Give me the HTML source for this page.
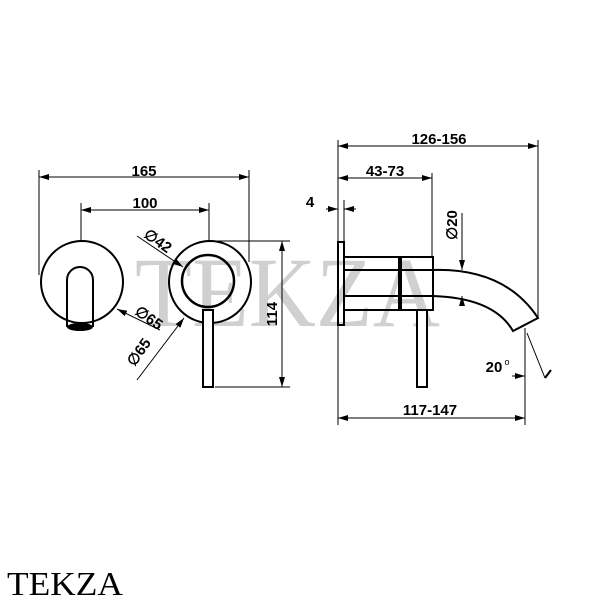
<!DOCTYPE html>
<html><head><style>body{margin:0;background:#fff}svg{display:block}</style></head>
<body>
<svg width="600" height="600" viewBox="0 0 600 600" xmlns="http://www.w3.org/2000/svg">
<defs>
<marker id="a" viewBox="0 0 10 6" refX="10" refY="3" markerWidth="10" markerHeight="6" orient="auto-start-reverse" markerUnits="userSpaceOnUse"><path d="M0,0L10,3L0,6z" fill="#000"/></marker>
</defs>
<text x="135" y="326" font-family="Liberation Serif, serif" font-size="100" fill="#d0d0d0" textLength="305" lengthAdjust="spacingAndGlyphs">TEKZA</text>
<g stroke="#000" fill="none" stroke-width="2">
<circle cx="82" cy="282" r="41"/>
<path d="M67,327V280a13,13 0 0 1 26,0V327"/>
<circle cx="210" cy="282" r="41"/>
<circle cx="208" cy="281" r="26" stroke-width="2.5"/>
<rect x="203" y="310" width="10" height="77" fill="#fff"/>
<rect x="338" y="242" width="6" height="83"/>
<rect x="344" y="257" width="55" height="53"/>
<rect x="401" y="257" width="32" height="53"/>
<path d="M344,270H433Q505,268 538,318L513,331Q494,298 433,296H344"/>
<rect x="417" y="310" width="10" height="77" fill="#fff"/>
</g>
<ellipse cx="80" cy="327" rx="13" ry="4" fill="#000"/>
<g stroke="#000" stroke-width="1" fill="none">
<line x1="39" y1="170" x2="39" y2="275"/><line x1="249" y1="170" x2="249" y2="262"/>
<line x1="39" y1="177" x2="249" y2="177" marker-start="url(#a)" marker-end="url(#a)"/>
<line x1="81" y1="203" x2="81" y2="241"/><line x1="209" y1="203" x2="209" y2="241"/>
<line x1="81" y1="210" x2="209" y2="210" marker-start="url(#a)" marker-end="url(#a)"/>
<line x1="212" y1="241" x2="290" y2="241"/><line x1="215" y1="387" x2="290" y2="387"/>
<line x1="282" y1="241" x2="282" y2="387" marker-start="url(#a)" marker-end="url(#a)"/>
<line x1="137" y1="236" x2="183" y2="267" marker-end="url(#a)"/>
<line x1="160" y1="330" x2="117" y2="309" marker-end="url(#a)"/>
<line x1="137" y1="380" x2="184" y2="318" marker-end="url(#a)"/>
<line x1="338" y1="140" x2="338" y2="242"/><line x1="344" y1="200" x2="344" y2="242"/>
<line x1="538" y1="140" x2="538" y2="318"/>
<line x1="338" y1="146" x2="538" y2="146" marker-start="url(#a)" marker-end="url(#a)"/>
<line x1="432" y1="173" x2="432" y2="257"/>
<line x1="338" y1="178" x2="432" y2="178" marker-start="url(#a)" marker-end="url(#a)"/>
<line x1="326" y1="209" x2="338" y2="209" marker-end="url(#a)"/>
<line x1="356" y1="209" x2="344" y2="209" marker-end="url(#a)"/>
<line x1="462" y1="213" x2="462" y2="270" marker-end="url(#a)"/>
<line x1="462" y1="306" x2="462" y2="296" marker-end="url(#a)"/>
<line x1="338" y1="325" x2="338" y2="425"/><line x1="525" y1="328" x2="525" y2="425"/>
<line x1="338" y1="418" x2="525" y2="418" marker-start="url(#a)" marker-end="url(#a)"/>
<line x1="527" y1="333" x2="545" y2="378"/>
<line x1="512" y1="376" x2="525" y2="376" marker-end="url(#a)"/>
<line x1="551" y1="370" x2="545" y2="378" stroke-width="2"/>
</g>
<g font-family="Liberation Sans, Arial, sans-serif" font-weight="bold" font-size="15" fill="#000" text-anchor="middle">
<text x="144" y="176">165</text>
<text x="145" y="208">100</text>
<text x="0" y="0" transform="translate(277,314) rotate(-90)">114</text>
<text x="0" y="0" transform="translate(155,245) rotate(35)">∅42</text>
<text x="0" y="0" transform="translate(146,322) rotate(35)">∅65</text>
<text x="0" y="0" transform="translate(143,355) rotate(-55)">∅65</text>
<text x="439" y="144">126-156</text>
<text x="385" y="176">43-73</text>
<text x="310" y="207">4</text>
<text x="0" y="0" transform="translate(457,225) rotate(-90)">∅20</text>
<text x="430" y="415">117-147</text>
<text x="494" y="372">20</text>
<text x="507" y="365" font-size="9" font-weight="normal">o</text>
</g>
<text x="7" y="595" font-family="Liberation Serif, serif" font-size="34" fill="#000" textLength="116" lengthAdjust="spacingAndGlyphs">TEKZA</text>
</svg>
</body></html>
